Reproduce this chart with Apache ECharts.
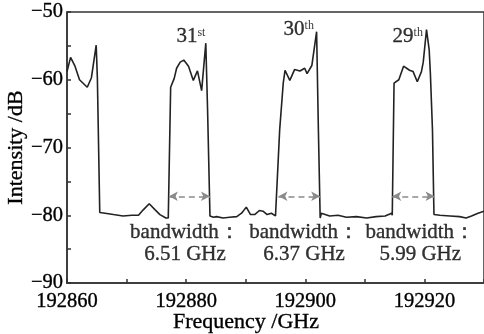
<!DOCTYPE html>
<html>
<head>
<meta charset="utf-8">
<script src="https://cdn.jsdelivr.net/npm/echarts@6/dist/echarts.min.js"></script>
<style>
  html, body { margin: 0; padding: 0; background: #fff; }
  #chart { width: 484px; height: 334px; }
</style>
</head>
<body>
<div id="chart"></div>
<script>
// 频率 (GHz) 与强度 (dB)
var freq = [
  192860.0, 192860.6, 192861.3, 192862.1, 192863.4, 192864.1, 192864.9, 192865.1,
  192865.5, 192866.4, 192867.8, 192869.4, 192870.9, 192872.0, 192872.8, 192873.8,
  192874.8, 192875.6, 192876.6, 192877.0,
  192877.4, 192878.0, 192878.4, 192879.0, 192879.6, 192880.4, 192881.2, 192881.9,
  192882.6, 192883.3, 192883.6, 192884.0,
  192884.6, 192885.1, 192886.2, 192887.3, 192888.5, 192889.3, 192890.1, 192890.8,
  192891.5, 192892.3, 192892.9, 192893.6, 192894.3, 192895.0, 192895.3,
  192895.7, 192896.3, 192896.6, 192897.4, 192898.2, 192899.1, 192899.9, 192900.3,
  192901.1, 192901.9, 192902.2, 192902.5,
  192902.7, 192904.1, 192905.5, 192906.9, 192908.6, 192910.3, 192911.9, 192913.4,
  192914.5, 192914.6,
  192914.9, 192915.7, 192916.5, 192917.5, 192918.1, 192918.8, 192919.5, 192919.8,
  192920.35, 192920.8, 192921.0, 192921.35, 192921.6,
  192922.6, 192924.3, 192925.9, 192927.0, 192927.9, 192929.0, 192930.0
];
var intensity = [
  -58.8, -56.7, -57.9, -60.0, -61.1, -59.7, -54.9, -59.8,
  -79.6, -79.7, -79.9, -80.1, -80.0, -80.0, -79.2, -78.3,
  -79.2, -79.9, -80.4, -80.4,
  -61.1, -59.8, -58.3, -57.4, -57.1, -58.0, -60.1, -58.7,
  -61.6, -54.6, -64.5, -80.1,
  -80.3, -80.2, -80.4, -80.3, -80.2, -79.7, -78.8, -79.9,
  -79.9, -79.3, -79.4, -79.9, -79.7, -80.1, -79.9,
  -67.4, -60.5, -58.6, -60.1, -58.5, -58.7, -58.3, -59.1,
  -57.9, -52.9, -67.4, -80.4,
  -79.7, -80.1, -80.0, -80.3, -80.2, -80.4, -80.2, -80.1,
  -79.7, -80.0,
  -60.5, -60.0, -58.0, -58.6, -58.8, -60.3, -58.8, -57.4,
  -52.6, -55.6, -59.1, -67.4, -79.9,
  -80.0, -80.1, -80.2, -80.4, -80.1, -79.7, -79.4
];

// 通道标注
var orderNum = ['31', '30', '29'];
var orderSup = ['st', 'th', 'th'];
var orderX = [192880.8, 192898.9, 192917.2];
var orderY = [-53.7, -52.6, -53.7];

// 带宽箭头与文字
var bwStart = [192877.1, 192895.5, 192914.6];
var bwEnd = [192884.0, 192902.5, 192921.7];
var bwArrowY = -77.2;
var bwText = ['6.51', '6.37', '5.99'];
var bwLabelX = [192879.8, 192899.8, 192919.3];
var bwLabelY = -84.2;

var serif = "'Liberation Serif', 'Times New Roman', serif";
var ink = '#000';

var chart = echarts.init(document.getElementById('chart'), null, { renderer: 'canvas' });

var lineData = freq.map(function (f, i) { return [f, intensity[i]]; });
var arrows = bwStart.map(function (s, i) {
  return [{ coord: [s, bwArrowY] }, { coord: [bwEnd[i], bwArrowY] }];
});
var orderData = orderNum.map(function (n, i) { return [orderX[i], orderY[i], n, orderSup[i]]; });
var bwData = bwText.map(function (t, i) { return [bwLabelX[i], bwLabelY, t]; });

// 文字稍加粗一点
var heavy = { textBorderColor: ink, textBorderWidth: 0.35 };

var option = {
  animation: false,
  grid: {
    left: 67, right: 0, top: 12, bottom: 51,
    outerBoundsMode: 'none',
    containLabel: false,
    show: true, borderColor: '#333', borderWidth: 1.5
  },
  xAxis: {
    type: 'value',
    min: 192860,
    max: 192930,
    interval: 10,
    name: 'Frequency /GHz',
    nameLocation: 'middle',
    nameGap: 28,
    nameMoveOverlap: false,
    nameTextStyle: Object.assign({ fontFamily: serif, fontSize: 22, color: ink, padding: [0, 59, 0, 0] }, heavy),
    axisLine: { lineStyle: { color: '#333', width: 1.5 } },
    axisTick: { inside: true, length: 4, lineStyle: { color: '#333', width: 1.5 } },
    splitLine: { show: false },
    axisLabel: Object.assign({
      margin: 8,
      fontFamily: serif, fontSize: 20.5, color: ink,
      formatter: function (v) { return v % 20 === 0 ? String(v) : ''; }
    }, heavy)
  },
  yAxis: {
    type: 'value',
    min: -90,
    max: -50,
    interval: 5,
    name: 'Intensity /dB',
    nameLocation: 'middle',
    nameGap: 40,
    nameMoveOverlap: false,
    nameTextStyle: Object.assign({ fontFamily: serif, fontSize: 22, color: ink }, heavy),
    axisLine: { show: true, lineStyle: { color: '#333', width: 1.5 } },
    axisTick: { show: true, inside: true, length: 4, lineStyle: { color: '#333', width: 1.5 } },
    splitLine: { show: false },
    axisLabel: Object.assign({
      margin: 4,
      fontFamily: serif, fontSize: 20.5, color: ink,
      formatter: function (v) { return v % 10 === 0 ? String(v).replace('-', '\u2212') : ''; }
    }, heavy)
  },
  series: [
    {
      type: 'line',
      data: lineData,
      symbol: 'none',
      lineStyle: { color: '#222', width: 1.6 },
      markLine: {
        silent: true,
        symbol: ['arrow', 'arrow'],
        symbolSize: [7, 9],
        label: { show: false },
        lineStyle: { type: [6, 4], color: '#8a8a8a', width: 1.5 },
        data: arrows
      }
    },
    {
      type: 'scatter',
      data: orderData,
      symbolSize: 0,
      silent: true,
      label: {
        show: true,
        position: 'inside',
        formatter: function (p) { return '{n|' + p.data[2] + '}{s|' + p.data[3] + '}'; },
        rich: {
          n: Object.assign({ fontFamily: serif, fontSize: 21, color: ink, verticalAlign: 'bottom', lineHeight: 20 }, heavy),
          s: { fontFamily: serif, fontSize: 12, color: ink, verticalAlign: 'top' }
        }
      }
    },
    {
      type: 'scatter',
      data: bwData,
      symbolSize: 0,
      silent: true,
      label: Object.assign({
        show: true,
        position: 'inside',
        fontFamily: serif,
        fontSize: 21,
        lineHeight: 22,
        color: ink,
        formatter: function (p) { return 'bandwidth\uff1a\n' + p.data[2] + ' GHz'; }
      }, heavy)
    }
  ]
};
chart.setOption(option);
</script>
</body>
</html>
